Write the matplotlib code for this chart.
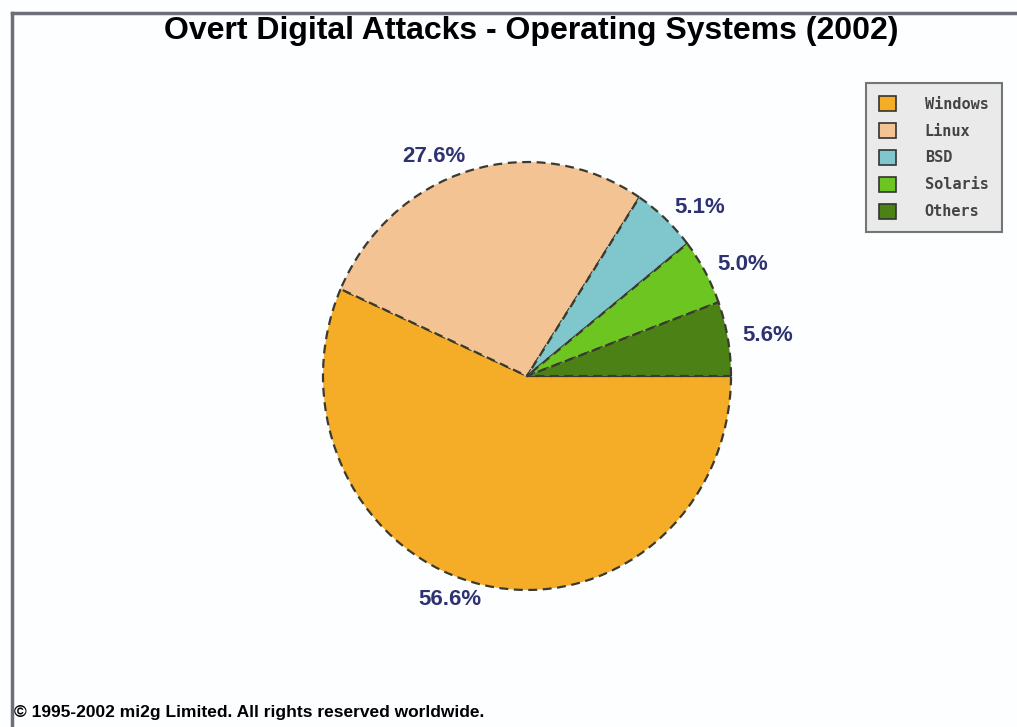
import matplotlib
matplotlib.use("Agg")
import matplotlib.pyplot as plt
from matplotlib.patches import Patch
from matplotlib.lines import Line2D

title = "Overt Digital Attacks - Operating Systems (2002)"
systems = ["Windows", "Linux", "BSD", "Solaris", "Others"]
shares = [56.6, 27.6, 5.1, 5.0, 5.6]
colors = ["#F5AC27", "#F4C393", "#7FC6CD", "#6CC520", "#4C8116"]
copyright_text = "\u00a9 1995-2002 mi2g Limited. All rights reserved worldwide."

W, H = 1017, 727
fig = plt.figure(figsize=(W / 100, H / 100), dpi=100)
fig.patch.set_facecolor("#FCFEFF")

# pie axes: centre (527,376) px, radius ~204 x 214 px
cx, cy = 527, 376
rx, ry = 204, 214
span = 1.5
ax = fig.add_axes([(cx - rx * span) / W, (H - cy - ry * span) / H,
                   2 * rx * span / W, 2 * ry * span / H])
labels = [f"{v:.1f}%" for v in shares]
wedges, texts = ax.pie(shares, colors=colors, startangle=0, counterclock=False,
                       labels=labels, labeldistance=1.07,
                       wedgeprops=dict(edgecolor="#3A3A30", linewidth=1.6,
                                       linestyle=(0, (4, 2.5))),
                       textprops=dict(color="#2E3270", fontsize=16,
                                      fontweight="bold", family="Liberation Sans"))
ax.set_aspect("auto")
ax.set_xlim(-span, span)
ax.set_ylim(-span, span)
ax.axis("off")

# title
fig.text(531 / W, 1 - 31 / H, title, ha="center", va="center",
         fontsize=23, fontweight="bold",
         family=["Liberation Sans Narrow", "Liberation Sans", "DejaVu Sans"])

# frame lines (top and left)
fig.add_artist(Line2D([12 / W, 1.0], [1 - 13 / H, 1 - 13 / H], color="#6E6E78", lw=2.5))
fig.add_artist(Line2D([12 / W, 12 / W], [0, 1 - 13 / H], color="#6E6E78", lw=2.5))

# legend
handles = [Patch(facecolor=c, edgecolor="#333333", linewidth=1.2) for c in colors]
leg = fig.legend(handles, systems, loc="upper left",
                 bbox_to_anchor=(866 / W, 1 - 83 / H), frameon=True,
                 fancybox=False, shadow=False,
                 prop=dict(family="DejaVu Sans Mono", size=11, weight="bold"),
                 handlelength=1.1, handleheight=1.1, labelspacing=0.75,
                 borderpad=0.85, handletextpad=1.9, borderaxespad=0)
leg.get_frame().set_facecolor("#E6E6E6")
leg.get_frame().set_edgecolor("#555555")
leg.get_frame().set_linewidth(1.5)
for t in leg.get_texts():
    t.set_color("#444444")

# copyright
fig.text(14 / W, 1 - 713 / H, copyright_text, ha="left", va="center",
         fontsize=12.5, fontweight="bold", family="Liberation Sans")

fig.savefig("out.png", dpi=100, facecolor=fig.get_facecolor())
